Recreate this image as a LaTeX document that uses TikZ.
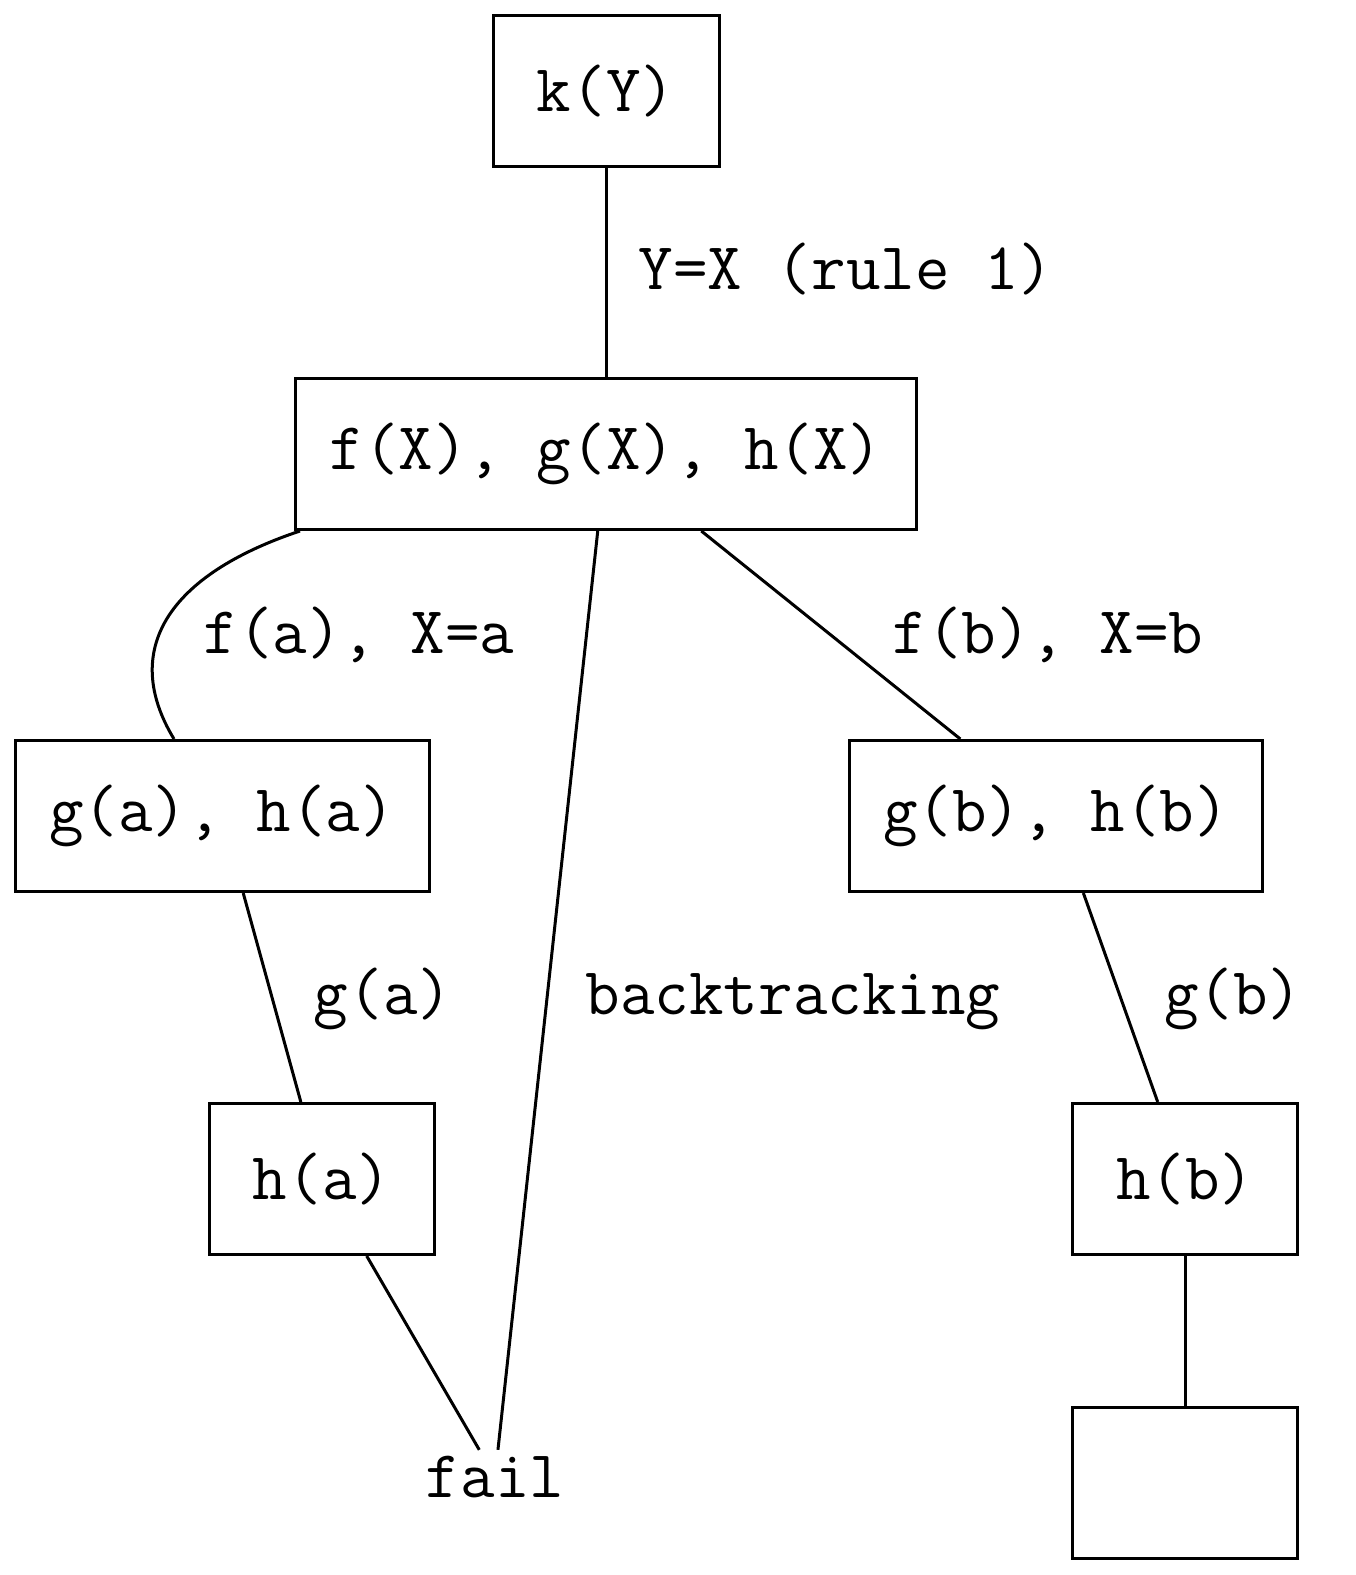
\documentclass[tikz,border=0pt]{standalone}
\usepackage{fontspec}
\setmonofont{Latin Modern Mono}
\begin{document}
\begin{tikzpicture}[x=1pt,y=-1pt,
  every node/.style={font=\ttfamily\fontsize{67}{80}\selectfont},
  goal/.style={draw,line width=3pt,inner sep=0pt},
  lbl/.style={anchor=base,inner sep=0pt},
  edge/.style={line width=3pt}]
\useasboundingbox (0,0) rectangle (1356,1575);
\node[goal,minimum width=226,minimum height=151] (k) at (606,91) {k(Y)};
\node[goal,minimum width=621,minimum height=151] (f) at (606,454) {f(X), g(X), h(X)};
\node[goal,minimum width=414,minimum height=151] (ga) at (222,816) {g(a), h(a)};
\node[goal,minimum width=413,minimum height=151] (gb) at (1056,816) {g(b), h(b)};
\node[goal,minimum width=225,minimum height=151] (ha) at (322,1179) {h(a)};
\node[goal,minimum width=225,minimum height=151] (hb) at (1185,1179) {h(b)};
\node[goal,minimum width=225,minimum height=151] (e) at (1185,1483) {};
\node[inner sep=0pt,minimum height=54] (fail) at (495,1477) {fail};
\draw[edge] (k) -- (f);
\draw[edge] (f.south west) ++(6,0) .. controls (168,575) and (120,650) .. (ga.north west -| 174,0);
\draw[edge] (f) -- (fail);
\draw[edge] (f) -- (gb);
\draw[edge] (ga) -- (ha);
\draw[edge] (ha) -- (fail);
\draw[edge] (gb) -- (hb);
\draw[edge] (hb) -- (e);
\node[lbl] (l1) at (846,289) {Y=X (rule 1)};
\node[lbl] (l2) at (359,653) {f(a), X=a};
\node[lbl] (l3) at (1048,653) {f(b), X=b};
\node[lbl] (l4) at (383,1014) {g(a)};
\node[lbl] (l5) at (793,1014) {backtracking};
\node[lbl] (l6) at (1233,1014) {g(b)};
\end{tikzpicture}
\end{document}
